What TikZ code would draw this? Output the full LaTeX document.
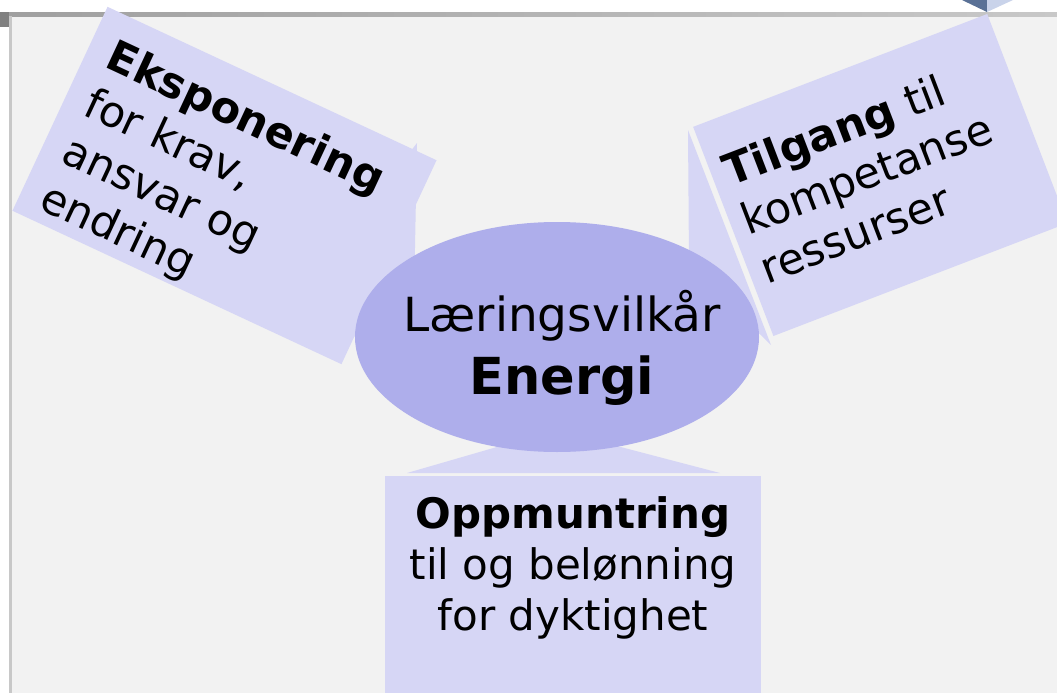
\documentclass[tikz,border=0pt]{standalone}
\usepackage{fontspec}
\setmainfont{DejaVu Sans}
\usepackage{tikz}
\usetikzlibrary{shapes.geometric}
\definecolor{lappfarge}{RGB}{214,214,245}
\definecolor{kjernefarge}{RGB}{174,174,235}
\definecolor{bakgrunn}{RGB}{242,242,242}
\definecolor{kantfarge}{RGB}{200,200,200}
\definecolor{skifer}{RGB}{90,113,150}
\definecolor{lysblaa}{RGB}{201,211,234}

\begin{document}
\begin{tikzpicture}[x=1pt,y=1pt]
\tikzstyle{every node}+=[inner sep=0pt]
\tikzstyle{lappboks}=[rectangle, fill=lappfarge, draw=none]
\tikzstyle{lapptekst}=[align=left, font=\fontsize{43}{52}\selectfont]
\useasboundingbox (0,0) rectangle (1057,-693);
% ramme
\fill [white] (0,0) rectangle (1057,-693);
\fill [bakgrunn] (12,-17) rectangle (1057,-693);
\shade [left color=gray!75, right color=kantfarge] (0,-12.5) rectangle (1057,-16.5);
\fill [kantfarge] (8.5,-16.5) rectangle (12,-693);
\fill [gray] (0,-12.5) rectangle (8.5,-27);
\fill [skifer] (962,0) -- (987,-12) -- (987,0) -- cycle;
\fill [lysblaa] (987,0) -- (987,-12) -- (1013,0) -- cycle;
% bein mot kjernen
\fill [lappfarge] (417,-143) -- (414,-300) -- (352,-338) -- (410,-152) -- cycle;
\fill [lappfarge] (688,-130) -- (689,-265) -- (771,-345) -- cycle;
\fill [lappfarge] (407,-473) -- (720,-473) -- (594,-440) -- (521,-440) -- cycle;
% lapper
\node [lappboks, minimum width=363, minimum height=225, rotate=-25] (ekspo) at (224.5,-185.5) {};
\node [lappboks, minimum width=315, minimum height=224, rotate=21] (tilgang) at (880.3,-175) {};
\node [lappboks, minimum width=376, minimum height=224] (oppm) at (573,-588) {};
\node [ellipse, fill=kjernefarge, minimum width=404, minimum height=230] (vilkaar) at (557,-337) {};
% tekst
\node [lapptekst, rotate=-25, anchor=north west] (ekspotekst) at (117.1,-37) {\textbf{Eksponering}\\for krav,\\ansvar og\\endring};
\node [lapptekst, rotate=21, anchor=north west] (tilgangtekst) at (718.3,-156.3) {\textbf{Tilgang} til\\kompetanse\\ressurser};
\node [align=center, font=\fontsize{42}{51}\selectfont, anchor=north] (oppmtekst) at (573,-496) {\textbf{Oppmuntring}\\til og belønning\\for dyktighet};
\node [align=center, font=\fontsize{47}{62.6}\selectfont, anchor=north] (vilkaartekst) at (562,-290) {Læringsvilkår\\{\fontsize{51}{62.6}\selectfont\bfseries Energi}};
\end{tikzpicture}
\end{document}
